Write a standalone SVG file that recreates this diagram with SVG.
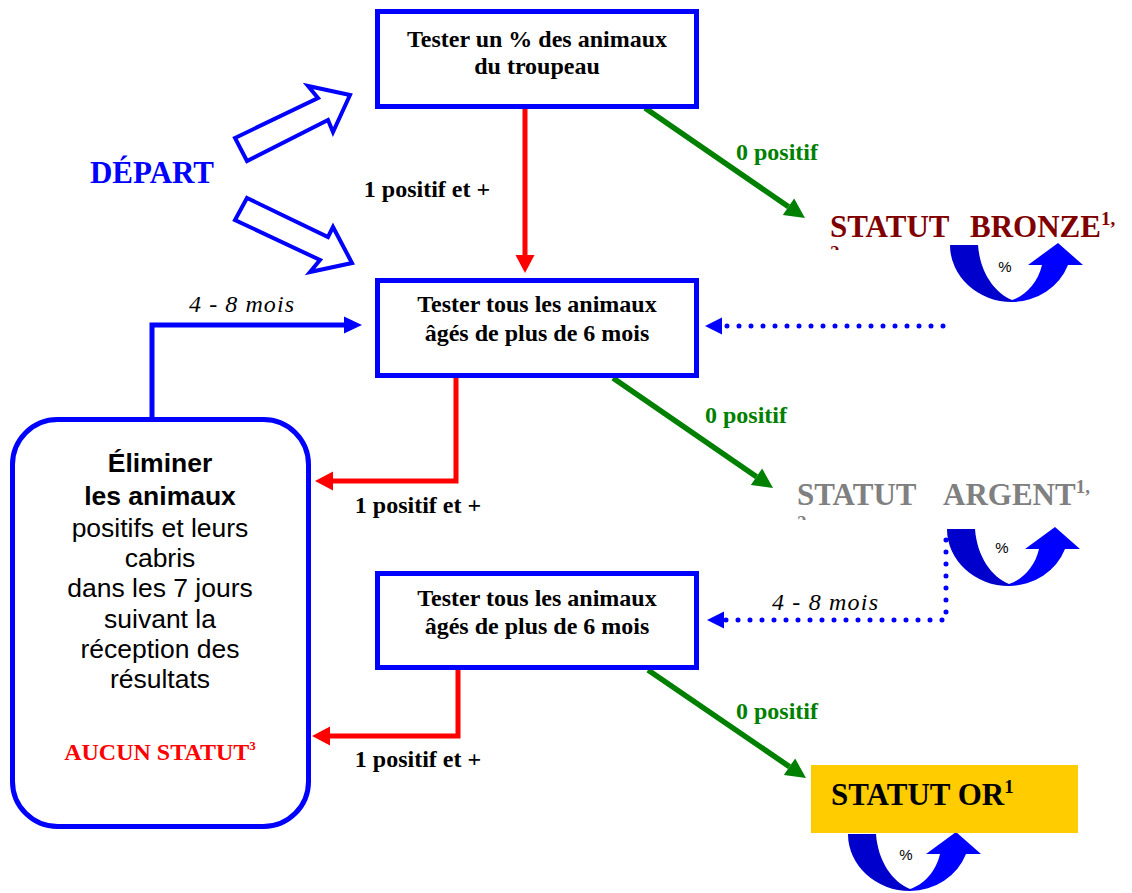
<svg xmlns="http://www.w3.org/2000/svg" width="1132" height="893" viewBox="0 0 1132 893">
<style>
.box{fill:#fff;stroke:#0000FF;stroke-width:5}
.bt{font-family:"Liberation Serif","Times New Roman",serif;font-weight:bold;font-size:24px;fill:#000;text-anchor:middle}
.lbl{font-family:"Liberation Serif","Times New Roman",serif;font-weight:bold;font-size:24px}
.mois{font-family:"Liberation Serif","Times New Roman",serif;font-style:italic;font-size:24px;fill:#000}
.st{font-family:"Liberation Serif","Times New Roman",serif;font-weight:bold;font-size:31px}
.sup{font-size:19px}
.san{font-family:"Liberation Sans",Arial,sans-serif;font-size:26.5px;fill:#000;text-anchor:middle}
.pct{font-family:"Liberation Sans",Arial,sans-serif;font-size:15px;fill:#000;text-anchor:middle}
.red{fill:none;stroke:#FF0000;stroke-width:5}
.grn{fill:none;stroke:#008000;stroke-width:5.5}
.blu{fill:none;stroke:#0000FF;stroke-width:5}
.dot{fill:none;stroke:#0000FF;stroke-width:5;stroke-linecap:round;stroke-dasharray:0 12}
.fat{fill:#fff;stroke:#0000FF;stroke-width:4;stroke-linejoin:miter}
</style>
<defs>
<marker id="hr" markerUnits="userSpaceOnUse" markerWidth="18" markerHeight="19" refX="0" refY="9.5" orient="auto" overflow="visible"><path d="M0,0 L18,9.5 L0,19 Z" fill="#FF0000"/></marker>
<marker id="hg" markerUnits="userSpaceOnUse" markerWidth="20" markerHeight="20" refX="0" refY="10" orient="auto" overflow="visible"><path d="M0,0 L20,10 L0,20 Z" fill="#008000"/></marker>
<marker id="hb" markerUnits="userSpaceOnUse" markerWidth="18" markerHeight="17" refX="0" refY="8.5" orient="auto" overflow="visible"><path d="M0,0 L18,8.5 L0,17 Z" fill="#0000FF"/></marker>
<marker id="hd" markerUnits="userSpaceOnUse" markerWidth="17" markerHeight="17" refX="0" refY="8.5" orient="auto" overflow="visible"><path d="M0,0 L17,8.5 L0,17 Z" fill="#0000FF"/></marker>
<g id="uturn">
<path d="M0,2 L28,2 C30,30 45,50 62,57 L62,59 A62,57 0 0 1 0,2 Z" fill="#0000CC"/>
<path d="M62,59 A60,57 0 0 0 118,22 L133,22 L108,0 L78,22 L92,22 C88,40 75,53 62,57 Z" fill="#0000FF"/>
</g>
<clipPath id="c1"><rect x="820" y="238" width="40" height="12"/></clipPath>
<clipPath id="c2"><rect x="787" y="508" width="40" height="12"/></clipPath>
</defs>

<g id="depart">
<text x="152" y="183" class="st" fill="#0000FF" text-anchor="middle" font-size="32">DÉPART</text>
<polygon class="fat" points="235,138 318,98 308,86 350,95 333,132 328,120 247,161"/>
<polygon class="fat" points="247,198 328,237 333,227 352,263 310,272 320,260 235,220"/>
</g>

<g id="connectors">
<path class="red" d="M525,107 V255" marker-end="url(#hr)"/>
<path class="grn" d="M645,108 L788.5,206.7" marker-end="url(#hg)"/>
<path class="blu" d="M152,418 V325 H344" marker-end="url(#hb)"/>
<path class="dot" d="M943,326 H722" marker-end="url(#hd)"/>
<path class="red" d="M456,377 V481 H333" marker-end="url(#hr)"/>
<path class="grn" d="M613,378 L756.5,476.7" marker-end="url(#hg)"/>
<path class="dot" d="M946,540 V620 H724" marker-end="url(#hd)"/>
<path class="red" d="M458,670 V736 H330" marker-end="url(#hr)"/>
<path class="grn" d="M648,670 L789.5,766.7" marker-end="url(#hg)"/>
<text x="427" y="197" class="lbl" fill="#000" text-anchor="middle">1 positif et +</text>
<text x="777" y="160" class="lbl" fill="#008000" text-anchor="middle">0 positif</text>
<text x="189" y="312" class="mois" textLength="105" lengthAdjust="spacing">4 - 8 mois</text>
<text x="418" y="513" class="lbl" fill="#000" text-anchor="middle">1 positif et +</text>
<text x="746" y="423" class="lbl" fill="#008000" text-anchor="middle">0 positif</text>
<text x="772" y="610" class="mois" textLength="106" lengthAdjust="spacing">4 - 8 mois</text>
<text x="418" y="767" class="lbl" fill="#000" text-anchor="middle">1 positif et +</text>
<text x="777" y="719" class="lbl" fill="#008000" text-anchor="middle">0 positif</text>
</g>

<g id="box1">
<rect class="box" x="377.5" y="11.5" width="319" height="95"/>
<text class="bt" x="537" y="47">Tester un % des animaux</text>
<text class="bt" x="537" y="74">du troupeau</text>
</g>

<g id="box2">
<rect class="box" x="377.5" y="280.5" width="319" height="95"/>
<text class="bt" x="537" y="312">Tester tous les animaux</text>
<text class="bt" x="537" y="341">âgés de plus de 6 mois</text>
</g>

<g id="box3">
<rect class="box" x="377.5" y="573.5" width="319" height="94"/>
<text class="bt" x="537" y="606">Tester tous les animaux</text>
<text class="bt" x="537" y="634">âgés de plus de 6 mois</text>
</g>

<g id="eliminer">
<rect class="box" x="12.5" y="419.5" width="296" height="407" rx="45" ry="45"/>
<text class="san" x="160" y="472" font-weight="bold" font-size="30">Éliminer</text>
<text class="san" x="160" y="505" font-weight="bold" font-size="30">les animaux</text>
<text class="san" x="160" y="537">positifs et leurs</text>
<text class="san" x="160" y="567">cabris</text>
<text class="san" x="160" y="597">dans les 7 jours</text>
<text class="san" x="160" y="628">suivant la</text>
<text class="san" x="160" y="658">réception des</text>
<text class="san" x="160" y="688">résultats</text>
<text x="160" y="760" class="lbl" fill="#FF0000" text-anchor="middle" font-size="23">AUCUN STATUT<tspan font-size="13" dy="-10">3</tspan></text>
</g>

<g id="bronze">
<use href="#uturn" x="950" y="243"/>
<text x="830" y="237" class="st" fill="#800000"><tspan>STATUT</tspan><tspan x="970">BRONZE</tspan><tspan class="sup" dy="-12">1,</tspan></text>
<text x="830" y="259" class="st sup" fill="#800000" clip-path="url(#c1)">2</text>
<text x="1005" y="272" class="pct">%</text>
</g>

<g id="argent">
<use href="#uturn" x="947" y="527"/>
<text x="797" y="505" class="st" fill="#808080"><tspan>STATUT</tspan><tspan x="943">ARGENT</tspan><tspan class="sup" dy="-12">1,</tspan></text>
<text x="797" y="529" class="st sup" fill="#808080" clip-path="url(#c2)">2</text>
<text x="1002" y="553" class="pct">%</text>
</g>

<g id="or">
<use href="#uturn" x="848" y="832"/>
<rect x="811" y="765" width="267" height="68" fill="#FFCC00"/>
<text x="831" y="805" class="st" fill="#000">STATUT OR<tspan class="sup" dy="-12">1</tspan></text>
<text x="906" y="860" class="pct">%</text>
</g>
</svg>
